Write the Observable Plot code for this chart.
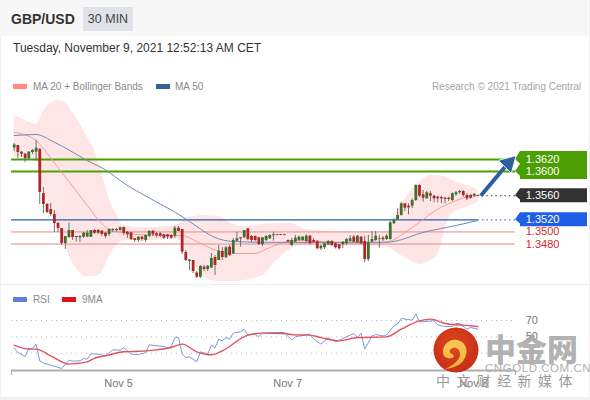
<!DOCTYPE html>
<html><head><meta charset="utf-8">
<style>
html,body{margin:0;padding:0;width:590px;height:400px;background:#f1f1f1;overflow:hidden;font-family:"Liberation Sans",Arial,sans-serif}
#card{position:absolute;left:1px;top:0;width:588px;height:397px;background:#fff}
#head{position:absolute;left:0;top:0;width:588px;height:36px;background:#f7f7f7}
.abs{position:absolute;white-space:nowrap}
.sw{position:absolute;height:5px;width:14px}
svg.chart{position:absolute;left:0;background:transparent;overflow:visible}
</style>
<script src="https://cdn.jsdelivr.net/npm/d3@7"></script>
<script src="https://cdn.jsdelivr.net/npm/@observablehq/plot@0.6"></script>
</head><body>
<div id="card"></div><div id="head"></div>
<div class="abs" style="left:11px;top:10px;font-size:14px;line-height:18px;font-weight:bold;color:#333">GBP/USD</div>
<div class="abs" style="left:83px;top:7px;width:50px;height:24px;background:#dfe3e8;color:#444;font-size:12.5px;line-height:24px;text-align:center">30 MIN</div>
<div class="abs" style="left:13px;top:40px;font-size:12px;line-height:16px;color:#333">Tuesday, November 9, 2021 12:52:13 AM CET</div>
<div class="sw" style="left:13px;top:84px;background:#ff8a8a"></div>
<div class="abs" style="left:33px;top:80px;font-size:10px;line-height:13px;color:#8a8a8a">MA 20 + Bollinger Bands</div>
<div class="sw" style="left:156px;top:84px;background:#34609f"></div>
<div class="abs" style="left:175px;top:80px;font-size:10px;line-height:13px;color:#8a8a8a">MA 50</div>
<div class="abs" style="right:9px;top:80px;font-size:10px;line-height:13px;color:#a5a5a5">Research © 2021 Trading Central</div>
<div class="abs" style="left:0;top:284px;width:590px;height:1px;background:#eeeeee"></div>
<div class="sw" style="left:13px;top:297px;background:#5f7fd8"></div>
<div class="abs" style="left:33px;top:293px;font-size:10px;line-height:13px;color:#8a8a8a">RSI</div>
<div class="sw" style="left:62px;top:297px;background:#e01414"></div>
<div class="abs" style="left:82px;top:293px;font-size:10px;line-height:13px;color:#8a8a8a">9MA</div>
<div id="price"></div><div id="rsi"></div>
<svg class="abs" style="left:430px;top:322px;overflow:visible" width="160" height="70">
<defs>
<radialGradient id="rg" cx="45%" cy="40%" r="65%"><stop offset="0" stop-color="#e0481c"/><stop offset="1" stop-color="#c42c18"/></radialGradient>
<linearGradient id="yg" x1="0" y1="0" x2="0" y2="1"><stop offset="0" stop-color="#f7c95a"/><stop offset="1" stop-color="#f5b233"/></linearGradient>
</defs>
<circle cx="26" cy="28" r="22.5" fill="url(#rg)"/>
<path fill="url(#yg)" d="M13 30 C13 22 20 17 27 18 C34 19 38 26 36 33 C34 41 26 46 15 47 C24 43 30 38 30 32 C30 27 26 25 23 26 C19 27 19 31 22 32 C24 33 25 35 22 36 C17 37 13 35 13 30 Z"/>
<text x="55" y="39" font-family="Noto Sans CJK SC" font-weight="900" font-size="31" fill="#a8a8a8" fill-opacity="0.9">中金网</text>
<text x="55" y="50" font-family="Liberation Sans" font-size="11.5" letter-spacing="0.55" fill="#b0b0b0">CNGOLD.COM.CN</text>
<text x="6" y="64" font-family="Noto Sans CJK SC" font-size="14" letter-spacing="6.4" fill="#9a9a9a">中文财经新媒体</text>
</svg>
<script>
const opens=[1.36390,1.36432,1.36321,1.36288,1.36212,1.36316,1.36321,1.36366,1.35637,1.35455,1.35372,1.35289,1.35140,1.35057,1.34809,1.34908,1.35024,1.34925,1.34903,1.34913,1.34913,1.34913,1.35024,1.35024,1.35013,1.34980,1.34958,1.35024,1.35041,1.35024,1.35074,1.34996,1.34986,1.34887,1.34859,1.34913,1.34859,1.34930,1.35013,1.34970,1.34970,1.34953,1.34953,1.34941,1.34930,1.35062,1.35041,1.34660,1.34511,1.34527,1.34320,1.34250,1.34417,1.34378,1.34403,1.34577,1.34527,1.34676,1.34572,1.34748,1.34638,1.34847,1.34903,1.34903,1.35052,1.34925,1.34925,1.34903,1.34792,1.34859,1.34887,1.34936,1.34955,1.34955,1.34955,1.34859,1.34776,1.34830,1.34859,1.34859,1.34842,1.34930,1.34859,1.34842,1.34721,1.34738,1.34787,1.34842,1.34804,1.34787,1.34787,1.34804,1.34842,1.34913,1.34820,1.34913,1.34842,1.34544,1.34830,1.34859,1.34875,1.34897,1.34875,1.34875,1.35135,1.35201,1.35273,1.35466,1.35427,1.35427,1.35521,1.35769,1.35615,1.35549,1.35632,1.35592,1.35576,1.35571,1.35559,1.35559,1.35521,1.35615,1.35649,1.35670,1.35604,1.35604,1.35592,1.35604];
const closes=[1.36440,1.36316,1.36288,1.36212,1.36321,1.36349,1.36387,1.35654,1.35455,1.35322,1.35289,1.35140,1.35057,1.34809,1.34925,1.35024,1.34908,1.34908,1.34925,1.34980,1.34980,1.35024,1.34980,1.34980,1.34958,1.34925,1.35041,1.35041,1.35024,1.35069,1.34975,1.34953,1.34875,1.34859,1.34913,1.34875,1.34941,1.35008,1.34953,1.34941,1.34930,1.34897,1.34913,1.34897,1.35062,1.35008,1.34665,1.34527,1.34536,1.34345,1.34250,1.34428,1.34378,1.34433,1.34560,1.34445,1.34681,1.34577,1.34738,1.34610,1.34859,1.34887,1.34884,1.35024,1.34870,1.34859,1.34859,1.34792,1.34903,1.34925,1.34941,1.34953,1.34940,1.34940,1.34940,1.34834,1.34859,1.34897,1.34913,1.34913,1.34930,1.34804,1.34830,1.34721,1.34764,1.34804,1.34842,1.34776,1.34738,1.34721,1.34830,1.34875,1.34887,1.34830,1.34930,1.34804,1.34544,1.34820,1.34875,1.34930,1.34887,1.34870,1.34930,1.35152,1.35190,1.35273,1.35466,1.35394,1.35400,1.35521,1.35769,1.35592,1.35559,1.35649,1.35592,1.35549,1.35549,1.35549,1.35538,1.35538,1.35632,1.35649,1.35670,1.35604,1.35549,1.35559,1.35620,1.35592];
const highs=[1.36465,1.36432,1.36332,1.36299,1.36332,1.36366,1.36515,1.36382,1.35736,1.35471,1.35471,1.35355,1.35157,1.35057,1.34925,1.35145,1.35024,1.34925,1.34941,1.34991,1.35024,1.35024,1.35041,1.35041,1.35024,1.34991,1.35057,1.35057,1.35057,1.35082,1.35082,1.35008,1.34991,1.34892,1.34925,1.34925,1.34958,1.35024,1.35024,1.34991,1.34991,1.34958,1.34958,1.34958,1.35090,1.35090,1.35041,1.34693,1.34544,1.34527,1.34345,1.34445,1.34445,1.34445,1.34643,1.34610,1.34776,1.34743,1.34760,1.34776,1.34892,1.34996,1.34903,1.35024,1.35057,1.34941,1.34933,1.34908,1.34908,1.34941,1.34958,1.34996,1.34955,1.34955,1.34955,1.34867,1.34892,1.34941,1.34933,1.34925,1.34953,1.34941,1.34887,1.34859,1.34776,1.34809,1.34859,1.34859,1.34809,1.34792,1.34842,1.34892,1.34941,1.34941,1.34941,1.34925,1.34925,1.34941,1.35008,1.35008,1.34941,1.34925,1.34958,1.35173,1.35218,1.35384,1.35493,1.35471,1.35466,1.35549,1.35781,1.35781,1.35687,1.35670,1.35670,1.35604,1.35592,1.35592,1.35576,1.35576,1.35649,1.35670,1.35687,1.35687,1.35632,1.35620,1.35637,1.35612];
const lows=[1.36332,1.36217,1.36233,1.36150,1.36200,1.36283,1.36167,1.35455,1.35306,1.35306,1.35256,1.34991,1.34991,1.34776,1.34709,1.34892,1.34859,1.34830,1.34826,1.34892,1.34908,1.34908,1.34958,1.34958,1.34925,1.34892,1.34925,1.34991,1.34991,1.35008,1.34941,1.34892,1.34859,1.34826,1.34826,1.34842,1.34826,1.34908,1.34925,1.34897,1.34908,1.34875,1.34875,1.34875,1.34892,1.35008,1.34627,1.34511,1.34362,1.34312,1.34229,1.34229,1.34345,1.34345,1.34395,1.34279,1.34527,1.34527,1.34560,1.34594,1.34627,1.34830,1.34748,1.34892,1.34867,1.34826,1.34842,1.34776,1.34759,1.34842,1.34875,1.34847,1.34940,1.34940,1.34940,1.34826,1.34759,1.34820,1.34842,1.34842,1.34820,1.34792,1.34804,1.34705,1.34693,1.34709,1.34776,1.34759,1.34718,1.34701,1.34726,1.34776,1.34826,1.34809,1.34809,1.34792,1.34489,1.34511,1.34826,1.34842,1.34731,1.34842,1.34859,1.34864,1.35124,1.35190,1.35261,1.35339,1.35284,1.35384,1.35504,1.35571,1.35493,1.35538,1.35504,1.35483,1.35483,1.35466,1.35466,1.35504,1.35504,1.35587,1.35620,1.35576,1.35521,1.35543,1.35571,1.35587];

const bandIdx=[0,3,6,8,10,12,14,16,18,20,22,24,26,28,30,34,38,42,45,47,49,52,56,60,63,68,72,76,80,88,96,101,103,105,108,111,114,116,118,120,123,125,127];
const bandUpper=[1.36929,1.36846,1.36780,1.36995,1.37127,1.37177,1.37144,1.36978,1.36796,1.36564,1.36349,1.35985,1.35554,1.35289,1.35107,1.35074,1.35074,1.35090,1.35124,1.35223,1.35256,1.35273,1.35256,1.35124,1.35090,1.35124,1.35140,1.35140,1.35041,1.35008,1.35008,1.35008,1.35041,1.35339,1.35620,1.35819,1.35935,1.35935,1.35918,1.35852,1.35786,1.35753,1.35687];
const bandLower=[1.36233,1.36233,1.36217,1.35687,1.35355,1.35090,1.34776,1.34478,1.34329,1.34262,1.34262,1.34329,1.34594,1.34776,1.34859,1.34859,1.34859,1.34875,1.34867,1.34726,1.34494,1.34246,1.34180,1.34180,1.34196,1.34279,1.34527,1.34726,1.34776,1.34759,1.34759,1.34759,1.34726,1.34643,1.34544,1.34461,1.34527,1.34610,1.35057,1.35306,1.35389,1.35438,1.35488];
const ma20Idx=[0,6,8,13,15,20,24,26,31,39,46,50,55,60,66,69,73,77,95,102,109,115,121,124,127];
const ma20=[1.36652,1.36515,1.36382,1.35985,1.35836,1.35438,1.35140,1.35041,1.34980,1.34941,1.34941,1.34842,1.34701,1.34643,1.34643,1.34718,1.34809,1.34859,1.34809,1.34834,1.35074,1.35339,1.35521,1.35579,1.35604];
const ma50Idx=[0,6,11,20,26,29,38,46,50,55,60,67,77,102,113,121,127];
const ma50=[1.36597,1.36614,1.36486,1.36183,1.35990,1.35852,1.35529,1.35256,1.35090,1.34908,1.34842,1.34830,1.34826,1.34830,1.35008,1.35107,1.35190];
const rsiIdx=[0,1,3,4,5,6,7,8,10,13,15,16,18,19,20,21,23,25,27,29,30,32,34,36,37,41,42,43,44,45,46,47,48,50,51,53,54,55,56,57,58,59,60,62,63,64,66,67,68,71,74,75,76,77,81,82,84,86,88,93,94,95,96,98,99,101,102,104,105,106,109,110,111,115,116,118,120,121,122,124,125,127];
const rsi=[36.2,30.8,25.9,35.7,35.7,41.1,20.6,17.8,15.4,11.2,21.5,20.3,20.6,23.5,22.7,29.2,28.8,26.8,34.1,33.7,36.9,28.8,28,30.8,40.2,38.1,36.2,38.1,49.1,49.1,28.8,24.7,25.5,19.4,31.7,28.8,39.8,36.2,47.2,45.1,49.1,47.2,54.5,56.1,59.4,52.4,53.3,50,54.5,55.3,55.3,50.4,46.3,50,53.3,47.2,41.1,49.1,43.9,54,49.1,54.5,35,51.2,52.8,51.2,52.4,63.5,65.5,72.4,70.4,77.8,68.3,69.6,64.7,62.6,62.6,66.3,66.3,59.4,61.4,59.4];
const ma9Idx=[0,4,6,10,15,17,20,22,25,30,33,39,43,46,50,54,57,64,68,74,77,81,84,89,94,102,106,111,114,118,123,127];
const ma9=[39.8,35,35,26.8,16.6,17.3,19.4,23.9,26.8,31.7,32,34.1,36.9,41.1,31.7,28,32.9,52.1,54.5,54,52.4,52.1,49.1,45.1,49.1,50,59.4,69.6,71.6,66.3,64.3,62.6];
const tickIdx=[28.6,74.9,125.8];
const tickLabels=["Nov 5","Nov 7","Nov 8"];
const rsiLevels=[70,50,30];
const rsiLabels=[70,50];

const candles=opens.map((o,i)=>({i,o,c:closes[i],h:highs[i],l:lows[i]}));
const band=bandIdx.map((i,k)=>({i,u:bandUpper[k],l:bandLower[k]}));
const lineData=(xs,ys)=>xs.map((i,k)=>({i,v:ys[k]}));
const FONT="Liberation Sans";
const GREEN="#4b9f02",BLUE="#1f5fe8",DARK="#333333",RED="#d62a2a";
const XD=[-0.74,137.3], XR=[11,515];
const T=140.1;

function tag(prices,fill,pad){
  return (index,scales)=>{
    const ys=prices.map(p=>scales.y(p));
    const top=ys[0]-pad, bot=ys[ys.length-1]+pad;
    let d=`M587 ${top}L520 ${top}`;
    ys.forEach((y,k)=>{d+=`L515 ${y}L520 ${y+pad*0.6}`;});
    d+=`L520 ${bot}L587 ${bot}Z`;
    const p=d3.create("svg:path").attr("d",d).attr("fill",fill);
    return p.node();
  };
}

const price=Plot.plot({
  width:590,height:215,margin:0,
  x:{domain:XD,range:XR,axis:null},
  y:{domain:[1.34113,1.37674],range:[215,0],axis:null},
  style:{background:"transparent",overflow:"visible"},
  className:"chart",
  marks:[
    Plot.areaY(band,{x:"i",y1:"l",y2:"u",fill:"#fee6e6",curve:"monotone-x"}),
    Plot.ruleY([1.36,1.362],{x1:XD[0],x2:XD[1],stroke:GREEN,strokeWidth:2}),
    Plot.ruleY([1.35,1.348],{x1:XD[0],x2:XD[1],stroke:"#e28a8a",strokeWidth:1}),
    Plot.ruleY([1.352],{x1:XD[0],x2:127,stroke:"#2a5cae",strokeWidth:1.2}),
    Plot.ruleY([1.352],{x1:127,x2:XD[1],stroke:"#2a5cae",strokeWidth:1,strokeDasharray:"1.5,3"}),
    Plot.ruleY([1.356],{x1:127,x2:XD[1],stroke:"#333",strokeWidth:1,strokeDasharray:"1.5,3"}),
    Plot.line(lineData(ma20Idx,ma20),{x:"i",y:"v",stroke:"#f49b9b",strokeWidth:1,curve:"monotone-x"}),
    Plot.line(lineData(ma50Idx,ma50),{x:"i",y:"v",stroke:"#6e88bc",strokeWidth:1,curve:"monotone-x"}),
    Plot.ruleX(candles,{x:"i",y1:"l",y2:"h",stroke:"#707070",strokeWidth:1}),
    Plot.ruleX(candles,{x:"i",y1:"o",y2:"c",stroke:d=>d.c>=d.o?"#3f6f2c":"#b32424",strokeWidth:2.8}),
    tag([1.362,1.36],GREEN,8),
    tag([1.356],DARK,7),
    tag([1.352],BLUE,7),
    Plot.link([{a:127.8,b:1.356,c:135.2,d:1.36135}],{x1:"a",y1:"b",x2:"c",y2:"d",stroke:"#2d5f9e",strokeWidth:4}),
    Plot.dot([{a:135.4,b:1.3614}],{x:"a",y:"b",symbol:"triangle",r:6.8,rotate:45,fill:"#2d5f9e",stroke:"#fff",strokeWidth:0.8}),
    Plot.text([1.362,1.36,1.356,1.352],{x:T,y:d=>d,text:d=>d.toFixed(4),textAnchor:"start",fill:"#fff",fontSize:11,fontFamily:FONT}),
    Plot.text([1.35,1.348],{x:T,y:d=>d,text:d=>d.toFixed(4),textAnchor:"start",fill:RED,fontSize:11,fontFamily:FONT})
  ]
});
price.style.position="absolute";price.style.top="70px";price.style.left="0";
document.getElementById("price").append(price);

const rsiChart=Plot.plot({
  width:590,height:115,marginTop:0,marginBottom:30,marginLeft:0,marginRight:0,
  x:{domain:XD,range:XR,axis:null},
  y:{domain:[8.8,112.8],axis:null},
  style:{background:"transparent",overflow:"visible"},
  className:"chart",
  marks:[
    Plot.ruleY(rsiLevels,{x1:XD[0],x2:XD[1],stroke:"#bbb",strokeWidth:1,strokeDasharray:"1,4"}),
    Plot.line(lineData(rsiIdx,rsi),{x:"i",y:"v",stroke:"#7f98da",strokeWidth:1}),
    Plot.line(lineData(ma9Idx,ma9),{x:"i",y:"v",stroke:"#e0525c",strokeWidth:1.4,curve:"monotone-x"}),
    Plot.ruleY([8.8],{x1:XD[0],x2:XD[1],stroke:"#b0b0b0",strokeWidth:2}),
    Plot.ruleX(XD,{y1:8.8,y2:2.6,stroke:"#b0b0b0",strokeWidth:1.2}),
    Plot.text(rsiLabels,{x:T,y:d=>d,text:d=>String(d),textAnchor:"start",fill:"#777",fontSize:11,fontFamily:FONT}),
    Plot.text(tickIdx,{x:d=>d,y:-7.5,text:(d,k)=>tickLabels[k],fill:"#777",fontSize:11,fontFamily:FONT})
  ]
});
rsiChart.style.position="absolute";rsiChart.style.top="285px";rsiChart.style.left="0";
document.getElementById("rsi").append(rsiChart);
</script>
</body></html>
